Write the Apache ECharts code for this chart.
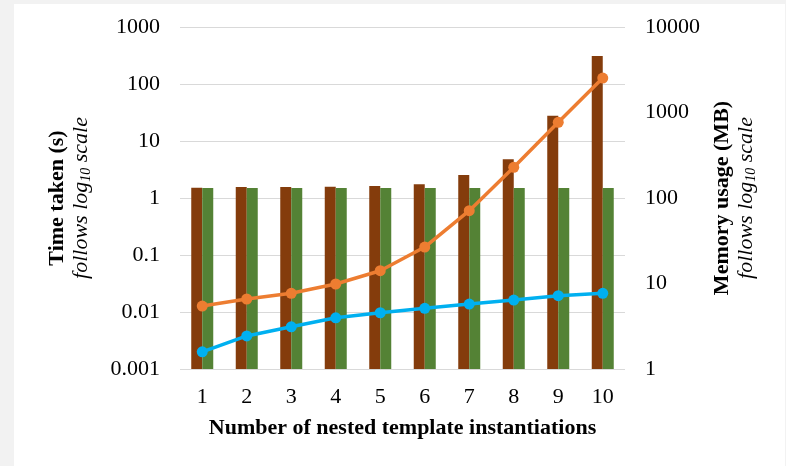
<!DOCTYPE html>
<html>
<head>
<meta charset="utf-8">
<script src="https://cdn.jsdelivr.net/npm/echarts@6/dist/echarts.min.js"></script>
<style>
  html, body { margin: 0; padding: 0; background: #f2f2f2; }
  #chart { position: absolute; left: 14px; top: 4px; width: 771px; height: 462px; background: #ffffff; }
</style>
</head>
<body>
<div id="chart"></div>
<script>
// Nesting depth of template instantiations
const categories = ['1', '2', '3', '4', '5', '6', '7', '8', '9', '10'];

// Memory usage (MB), drawn as bars on the right axis
const memoryBrown = [132, 134.5, 134.5, 135.6, 138, 144.6, 186, 283.5, 917, 4580];
const memoryGreen = [131, 131, 131, 131, 131, 131, 131, 131, 131, 131];

// Time taken (s), drawn as lines on the left axis
const timeOrange = [0.0127, 0.0169, 0.0213, 0.031, 0.053, 0.138, 0.60, 3.45, 21.3, 127];
const timeBlue = [0.0020, 0.0038, 0.0055, 0.0079, 0.0097, 0.0116, 0.0138, 0.0162, 0.0193, 0.0213];

// Axis ranges
const timeRange = [0.001, 1000];
const memoryRange = [1, 10000];

const FONT = 'Liberation Serif';
const FS = 22;

function fmt(v) {
  return String(Number(Number(v).toPrecision(3)));
}

const titleRich = {
  b: { fontFamily: FONT, fontWeight: 'bold', fontSize: FS, color: '#000', lineHeight: 24 },
  i: { fontFamily: FONT, fontStyle: 'italic', fontSize: FS, color: '#000', lineHeight: 24 },
  s: { fontFamily: FONT, fontStyle: 'italic', fontSize: 14, color: '#000', lineHeight: 24, verticalAlign: 'bottom', padding: [9, 0, 0, 0] }
};

const chart = echarts.init(document.getElementById('chart'));
chart.setOption({
  animation: false,
  backgroundColor: '#ffffff',
  grid: { left: 166, right: 160, top: 23, bottom: 97, containLabel: false },
  xAxis: {
    type: 'category',
    data: categories,
    axisLine: { show: false },
    axisTick: { show: false },
    axisLabel: { fontFamily: FONT, fontSize: FS, color: '#000', margin: 17 },
    name: 'Number of nested template instantiations',
    nameLocation: 'middle',
    nameGap: 48,
    nameTextStyle: { fontFamily: FONT, fontWeight: 'bold', fontSize: FS, color: '#000' }
  },
  yAxis: [
    {
      type: 'log',
      logBase: 10,
      min: timeRange[0],
      max: timeRange[1],
      splitNumber: 6,
      position: 'left',
      axisLine: { show: false },
      axisTick: { show: false },
      splitLine: { show: true, lineStyle: { color: '#d9d9d9', width: 1 } },
      axisLabel: { fontFamily: FONT, fontSize: FS, color: '#000', margin: 20, formatter: fmt },
      name: '{b|Time taken (s)}\n{i|follows log}{s|10}{i| scale}',
      nameLocation: 'middle',
      nameRotate: 90,
      nameGap: 87,
      nameTextStyle: { rich: titleRich }
    },
    {
      type: 'log',
      logBase: 10,
      min: memoryRange[0],
      max: memoryRange[1],
      splitNumber: 4,
      position: 'right',
      axisLine: { show: false },
      axisTick: { show: false },
      splitLine: { show: false },
      axisLabel: { fontFamily: FONT, fontSize: FS, color: '#000', margin: 20, formatter: fmt },
      name: '{b|Memory usage (MB)}\n{i|follows log}{s|10}{i| scale}',
      nameLocation: 'middle',
      nameRotate: 90,
      nameGap: 85,
      nameTextStyle: { rich: titleRich }
    }
  ],
  series: [
    {
      type: 'bar',
      yAxisIndex: 1,
      data: memoryBrown,
      barWidth: 11,
      barGap: '0%',
      itemStyle: { color: '#843c0c' }
    },
    {
      type: 'bar',
      yAxisIndex: 1,
      data: memoryGreen,
      barWidth: 11,
      barGap: '0%',
      itemStyle: { color: '#548235' }
    },
    {
      type: 'line',
      yAxisIndex: 0,
      data: timeOrange,
      symbol: 'circle',
      symbolSize: 11,
      lineStyle: { color: '#ed7d31', width: 3.5 },
      itemStyle: { color: '#ed7d31' },
      z: 5
    },
    {
      type: 'line',
      yAxisIndex: 0,
      data: timeBlue,
      symbol: 'circle',
      symbolSize: 11,
      lineStyle: { color: '#00b0f0', width: 3.5 },
      itemStyle: { color: '#00b0f0' },
      z: 5
    }
  ]
});
</script>
</body>
</html>
